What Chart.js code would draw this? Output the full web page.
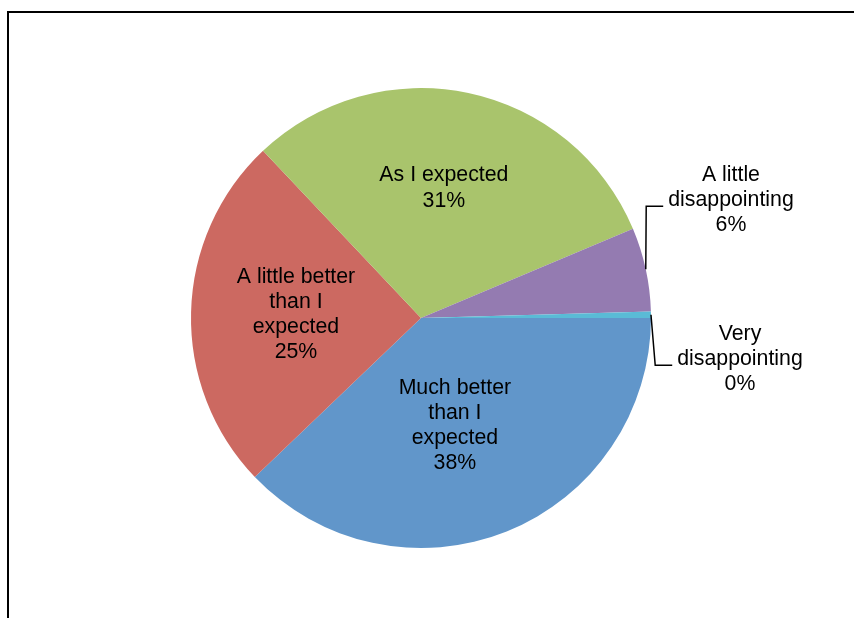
<!DOCTYPE html>
<html>
<head>
<meta charset="utf-8">
<script src="https://cdn.jsdelivr.net/npm/chart.js@4.4.1/dist/chart.umd.min.js"></script>
<style>
  html, body { margin: 0; padding: 0; background: #ffffff; }
  #wrap { position: relative; width: 854px; height: 618px; }
</style>
</head>
<body>
<div id="wrap"><canvas id="c" width="854" height="618"></canvas></div>
<script>
// ---- data ----
const categories = [
  'Much better than I expected',
  'A little better than I expected',
  'As I expected',
  'A little disappointing',
  'Very disappointing'
];
const labelLines = [
  ['Much better', 'than I', 'expected'],
  ['A little better', 'than I', 'expected'],
  ['As I expected'],
  ['A little', 'disappointing'],
  ['Very', 'disappointing']
];
const values = [37.85, 25.1, 30.7, 5.9, 0.45];
const colors = ['#6196CA', '#CC6961', '#A9C46C', '#947BB1', '#5ABBD6'];

// ---- label placement (style) ----
const labelPlacement = [
  { mode: 'inside', frac: 0.485, angleOffset: 4.2 },
  { mode: 'inside', frac: 0.544, angleOffset: 0.7 },
  { mode: 'inside', frac: 0.58, angleOffset: -2.0 },
  { mode: 'outside', dx: 85.2, dy: -70.9 },
  { mode: 'outside', dx: 89, dy: 42.5 }
];

const FONT = '21.3px "Liberation Sans", Arial, sans-serif';
const LINE_H = 25.1;
const TEXT_SHIFT = 1.5;

const labelPlugin = {
  id: 'pieLabels',
  beforeDraw(chart) {
    const ctx = chart.ctx;
    ctx.save();
    ctx.fillStyle = '#ffffff';
    ctx.fillRect(0, 0, chart.width, chart.height);
    ctx.strokeStyle = '#000000';
    ctx.lineWidth = 2;
    ctx.beginPath();
    ctx.moveTo(8, chart.height + 5);
    ctx.lineTo(8, 12);
    ctx.lineTo(chart.width + 5, 12);
    ctx.stroke();
    ctx.restore();
  },
  afterDatasetsDraw(chart) {
    const ctx = chart.ctx;
    const meta = chart.getDatasetMeta(0);
    const total = values.reduce((a, b) => a + b, 0);
    ctx.save();
    ctx.font = FONT;
    ctx.fillStyle = '#000000';
    ctx.textAlign = 'center';
    ctx.textBaseline = 'middle';
    meta.data.forEach((arc, i) => {
      const p = arc.getProps(['x', 'y', 'startAngle', 'endAngle', 'outerRadius'], true);
      const mid = (p.startAngle + p.endAngle) / 2;
      const lines = labelLines[i].concat([Math.round(values[i] / total * 100) + '%']);
      const pl = labelPlacement[i];
      let cx, cy;
      if (pl.mode === 'inside') {
        const a = mid + pl.angleOffset * Math.PI / 180;
        cx = p.x + Math.cos(a) * p.outerRadius * pl.frac;
        cy = p.y + Math.sin(a) * p.outerRadius * pl.frac;
      } else {
        const ex = p.x + Math.cos(mid) * p.outerRadius;
        const ey = p.y + Math.sin(mid) * p.outerRadius;
        cx = ex + pl.dx;
        cy = ey + pl.dy;
        let maxW = 0;
        lines.forEach(l => { maxW = Math.max(maxW, ctx.measureText(l).width); });
        const left = cx - maxW / 2;
        const ly = cy + 8;
        ctx.strokeStyle = '#000000';
        ctx.lineWidth = 1.5;
        ctx.beginPath();
        ctx.moveTo(ex, ey);
        ctx.lineTo(left - 22, ly);
        ctx.lineTo(left - 5, ly);
        ctx.stroke();
      }
      const startY = cy - (lines.length - 1) * LINE_H / 2 + TEXT_SHIFT;
      lines.forEach((l, k) => {
        ctx.fillText(l, cx, startY + k * LINE_H);
      });
    });
    ctx.restore();
  }
};

new Chart(document.getElementById('c'), {
  type: 'pie',
  data: {
    labels: categories,
    datasets: [{
      data: values,
      backgroundColor: colors,
      borderWidth: 0
    }]
  },
  options: {
    responsive: false,
    animation: false,
    rotation: 90,
    layout: { padding: { top: 88, bottom: 70, left: 0, right: 12 } },
    plugins: {
      legend: { display: false },
      tooltip: { enabled: false }
    }
  },
  plugins: [labelPlugin]
});
</script>
</body>
</html>
